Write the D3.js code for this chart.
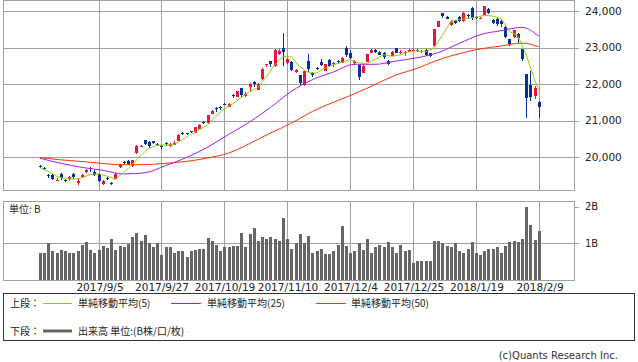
<!DOCTYPE html>
<html>
<head>
<meta charset="utf-8">
<script src="https://cdn.jsdelivr.net/npm/d3@7"></script>
<style>
  body { margin: 0; background: #fff; }
  svg { display: block; font-family: "DejaVu Sans", sans-serif; }
  .grid line, .frame { stroke: #a0a0a0; stroke-width: 1; fill: none; shape-rendering: crispEdges; }
  .jp { font-family: "Noto Sans CJK JP", sans-serif; }
</style>
</head>
<body>
<svg id="chart" width="638" height="362"></svg>
<script>
// 日経平均 日足 (2017/8/16 - 2018/2/9), 120本
const opens = [
  19765,19710,19500,19510,19370,19550,19380,19390,19530,19280,
  19450,19580,19710,19600,19540,19270,19440,19300,19390,19720,
  19870,19890,19765,20100,20300,20470,20420,20430,20360,20300,
  20390,20300,20330,20440,20670,20650,20710,20670,20770,20960,
  20930,21180,21340,21380,21460,21380,21710,21650,21880,21670,
  21910,22060,21840,22130,22520,22630,22490,22820,22980,22570,
  22610,22340,22250,21970,22640,22300,22450,22610,22370,22660,
  22540,22620,22580,22980,22860,22570,22520,22310,22610,22860,
  22930,22880,22840,22640,22770,22980,22850,22840,22890,22920,
  22930,22880,22930,22840,23050,23570,23940,23840,23620,23750,
  23830,23730,23890,24070,23830,23800,23890,24050,23750,23770,
  23730,23570,23220,23280,23370,22950,22280,21980,21660,21520
];
const highs = [
  19790,19740,19540,19540,19420,19570,19400,19470,19560,19390,
  19540,19670,19740,19640,19560,19380,19460,19330,19560,19800,
  19890,19920,19930,20320,20330,20480,20440,20440,20390,20330,
  20410,20380,20430,20630,20680,20670,20720,20830,20900,20990,
  21160,21300,21380,21410,21480,21480,21720,21820,21890,21770,
  22020,22090,22030,22440,22560,22640,22950,22960,23390,22700,
  22620,22410,22260,22370,22820,22330,22480,22680,22560,22680,
  22600,22650,22740,23030,22920,22660,22530,22520,22830,22950,
  22960,22900,22870,22660,22910,22990,22920,22900,22950,22960,
  22950,22930,22950,22850,23510,23730,23950,23870,23750,23760,
  23850,23960,23920,24100,23850,23840,24140,24080,23780,23800,
  23750,23580,23230,23490,23390,22960,22280,22350,21940,21530
];
const lows = [
  19700,19660,19420,19370,19340,19380,19320,19360,19410,19240,
  19420,19560,19600,19480,19330,19240,19370,19240,19380,19700,
  19820,19780,19740,20080,20270,20330,20260,20350,20300,20210,
  20310,20280,20320,20430,20600,20600,20660,20660,20760,20900,
  20920,21170,21240,21300,21420,21360,21630,21640,21650,21650,
  21790,21910,21830,22120,22460,22480,22480,22800,22500,22560,
  22360,22300,21970,21950,22320,22200,22380,22500,22360,22470,
  22480,22560,22570,22750,22680,22530,22110,22290,22590,22840,
  22850,22790,22690,22530,22760,22840,22830,22780,22870,22900,
  22870,22860,22780,22740,23040,23550,23820,23770,23600,23640,
  23700,23700,23790,23760,23790,23790,23880,23910,23640,23600,
  23570,23250,23030,23270,23130,22640,21060,21540,21600,21080
];
const closes = [
  19720,19700,19470,19390,19385,19430,19350,19450,19450,19360,
  19510,19650,19690,19510,19360,19360,19400,19270,19540,19780,
  19860,19810,19910,20300,20310,20350,20300,20380,20330,20270,
  20360,20360,20400,20610,20630,20630,20690,20820,20880,20950,
  21150,21260,21330,21360,21450,21460,21700,21810,21710,21740,
  22010,22010,22010,22420,22540,22550,22940,22910,22870,22680,
  22380,22380,22030,22350,22420,22260,22410,22520,22550,22490,
  22580,22600,22720,22800,22710,22620,22180,22500,22810,22940,
  22870,22800,22730,22550,22890,22860,22890,22870,22920,22940,
  22900,22910,22800,22760,23510,23720,23850,23790,23710,23660,
  23730,23950,23860,23800,23810,23820,24140,23940,23670,23630,
  23630,23290,23090,23490,23270,22680,21610,21650,21890,21380
];
// 出来高 (単位: B)
const volumes = [
  0.75,0.75,1.00,0.80,0.75,0.82,0.80,0.75,0.75,0.80,
  0.96,1.04,0.82,0.75,0.82,0.93,0.86,1.12,0.82,0.93,
  0.89,0.98,1.17,1.29,1.06,1.23,1.00,0.89,1.00,0.67,
  0.89,0.91,0.74,0.78,0.78,0.62,0.80,0.82,0.85,0.85,
  1.15,1.07,0.96,0.78,0.89,0.91,0.93,0.93,1.29,0.89,
  1.25,1.41,1.07,1.16,1.12,1.16,1.12,1.07,1.68,1.12,
  0.85,1.02,1.25,1.02,1.21,0.75,0.80,0.85,0.70,0.70,
  0.80,0.96,1.47,0.93,0.74,0.80,1.02,0.82,1.12,0.75,
  0.91,0.96,0.91,1.04,0.91,0.75,0.96,0.78,0.82,0.46,
  0.51,0.51,0.53,0.51,1.07,1.07,1.00,0.93,0.89,1.00,
  0.80,0.73,0.85,1.04,0.75,0.69,0.78,0.85,0.85,0.91,
  0.73,0.93,1.05,1.07,1.05,1.12,1.98,1.50,1.08,1.34
];

// 移動平均 (読み取り値: 足番号と値)
const ma5Days = [0,2,4,6,8,10,12,14,16,18,20,22,24,26,28,30,32,34,36,38,40,42,44,46,48,50,52,54,56,58,
  60,62,64,66,68,70,72,74,76,78,80,82,84,86,88,90,92,94,96,98,100,102,104,106,108,110,112,114,116,118,119];
const ma5 = [19710,19610,19480,19400,19400,19430,19530,19540,19480,19400,19580,19790,20040,20240,20330,20330,20340,20480,20620,20750,
  20880,21120,21330,21460,21630,21790,21900,22200,22520,22760,22740,22480,22310,22300,22440,22530,22590,22670,22580,22560,
  22680,22800,22760,22800,22880,22910,22880,22990,23330,23710,23760,23800,23830,23880,23860,23790,23440,23320,22800,22120,21840];
const maDays = [0,5,10,15,20,25,30,35,40,45,50,55,60,65,70,75,80,85,90,95,100,105,110,115,119];
const ma25 = [19970,19830,19720,19640,19540,19570,19770,19990,20270,20620,20960,21360,21800,22120,22330,22540,
  22540,22630,22720,22860,23110,23350,23460,23550,23310];
const ma50 = [19985,19925,19880,19825,19790,19795,19830,19885,19975,20110,20370,20660,20930,21250,21500,21730,
  21990,22250,22430,22660,22830,22960,23040,23120,23020];

const tickDays = [14, 29, 44, 59, 74, 89, 104, 119];
const tickLabels = ["2017/9/5","2017/9/27","2017/10/19","2017/11/10","2017/12/4","2017/12/25","2018/1/19","2018/2/9"];
const priceTicks = [20000, 21000, 22000, 23000, 24000];
const volTicks = [1, 2];

const svg = d3.select("#chart");
const left = 3, right = 574;

const x = d3.scaleLinear().domain([-8.8, 127.4]).range([left, right]);
const y = d3.scaleLinear().domain([19100, 24300]).range([190, 0]);
const yv = d3.scaleLinear().domain([0, 2.155]).range([280, 201]);
const px = i => Math.round(x(i));

// --- 上段 枠とグリッド
const gp = svg.append("g").attr("class", "grid");
gp.selectAll("line.h").data(priceTicks).enter().append("line")
  .attr("x1", left).attr("x2", right + 5)
  .attr("y1", d => Math.round(y(d)) + 0.5).attr("y2", d => Math.round(y(d)) + 0.5);
gp.selectAll("line.v").data(tickDays).enter().append("line")
  .attr("x1", d => px(d) + 0.5).attr("x2", d => px(d) + 0.5)
  .attr("y1", 0).attr("y2", 190);
svg.append("rect").attr("class", "frame")
  .attr("x", left + 0.5).attr("y", 0.5).attr("width", right - left).attr("height", 190);

svg.append("g").selectAll("text").data(priceTicks).enter().append("text")
  .attr("x", 585).attr("y", d => y(d)).attr("dy", "0.36em")
  .attr("font-size", 10.5).attr("fill", "#222")
  .text(d3.format(","));

// --- ローソク足
const up = "#ee1144", down = "#003399";
const cg = svg.append("g").attr("shape-rendering", "crispEdges");
const idx = d3.range(opens.length);
cg.selectAll("line").data(idx).enter().append("line")
  .attr("x1", i => px(i) + 0.5).attr("x2", i => px(i) + 0.5)
  .attr("y1", i => y(highs[i])).attr("y2", i => y(lows[i]))
  .attr("stroke", i => closes[i] >= opens[i] ? up : down);
cg.selectAll("rect").data(idx).enter().append("rect")
  .attr("x", i => px(i) - 1).attr("width", 3)
  .attr("y", i => y(Math.max(opens[i], closes[i])))
  .attr("height", i => Math.max(1, y(Math.min(opens[i], closes[i])) - y(Math.max(opens[i], closes[i]))))
  .attr("fill", i => closes[i] >= opens[i] ? up : down);

// --- 移動平均線
const maLine = (days) => d3.line().x((d, k) => x(days[k])).y(d => y(d));
svg.append("path").datum(ma50).attr("d", maLine(maDays).curve(d3.curveMonotoneX))
  .attr("fill", "none").attr("stroke", "#ff3300").attr("stroke-width", 1);
svg.append("path").datum(ma25).attr("d", maLine(maDays).curve(d3.curveMonotoneX))
  .attr("fill", "none").attr("stroke", "#a020f0").attr("stroke-width", 1);
svg.append("path").datum(ma5).attr("d", maLine(ma5Days))
  .attr("fill", "none").attr("stroke", "#99cc00").attr("stroke-width", 1);

// --- 下段 出来高
const gv = svg.append("g").attr("class", "grid");
gv.selectAll("line.h").data(volTicks).enter().append("line")
  .attr("x1", d => d === 1 ? left : right).attr("x2", right + 5)
  .attr("y1", d => Math.round(yv(d)) + 0.5).attr("y2", d => Math.round(yv(d)) + 0.5);
gv.selectAll("line.v").data(tickDays).enter().append("line")
  .attr("x1", d => px(d) + 0.5).attr("x2", d => px(d) + 0.5)
  .attr("y1", 201).attr("y2", 280);
svg.append("rect").attr("class", "frame")
  .attr("x", left + 0.5).attr("y", 201.5).attr("width", right - left).attr("height", 79);

svg.append("g").attr("shape-rendering", "crispEdges")
  .selectAll("rect").data(idx).enter().append("rect")
  .attr("x", i => px(i) - 1).attr("width", 3)
  .attr("y", i => yv(volumes[i])).attr("height", i => yv(0) - yv(volumes[i]))
  .attr("fill", "#666");

svg.append("g").selectAll("text").data(volTicks).enter().append("text")
  .attr("x", 585).attr("y", d => yv(d)).attr("dy", "0.36em")
  .attr("font-size", 10).attr("fill", "#222")
  .text(d => d + "B");
svg.append("text").attr("class", "jp").attr("x", 9).attr("y", 213)
  .attr("font-size", 10).attr("fill", "#222").text("単位: B");

// --- 日付ラベル
svg.append("g").selectAll("text").data(tickDays).enter().append("text")
  .attr("x", d => px(d) + 1).attr("y", 291)
  .attr("text-anchor", "middle").attr("font-size", 10.5).attr("fill", "#222")
  .text((d, k) => tickLabels[k]);

// --- 凡例
svg.append("rect").attr("class", "frame").attr("stroke", "#333")
  .attr("x", 3.5).attr("y", 293.5).attr("width", 631).attr("height", 47)
  .style("stroke", "#333");
const legend = [
  { x1: 43, x2: 72, tx: 78, label: "単純移動平均(5)", color: "#99cc00" },
  { x1: 171, x2: 201, tx: 207, label: "単純移動平均(25)", color: "#a020f0" },
  { x1: 316, x2: 346, tx: 351, label: "単純移動平均(50)", color: "#ff3300" }
];
const lg = svg.append("g").attr("class", "jp").attr("font-size", 10).attr("fill", "#222");
lg.append("text").attr("x", 10).attr("y", 307).text("上段：");
legend.forEach(d => {
  lg.append("line").attr("x1", d.x1).attr("x2", d.x2).attr("y1", 303.5).attr("y2", 303.5)
    .attr("stroke", d.color).attr("stroke-width", 1);
  lg.append("text").attr("x", d.tx).attr("y", 307).text(d.label);
});
lg.append("text").attr("x", 10).attr("y", 335).text("下段：");
lg.append("line").attr("x1", 43).attr("x2", 72).attr("y1", 331).attr("y2", 331)
  .attr("stroke", "#666").attr("stroke-width", 3);
lg.append("text").attr("x", 78).attr("y", 335).text("出来高 単位:(B株/口/枚)");

svg.append("text").attr("x", 618).attr("y", 359).attr("text-anchor", "end")
  .attr("font-size", 10).attr("fill", "#333").text("(c)Quants Research Inc.");
</script>
</body>
</html>
